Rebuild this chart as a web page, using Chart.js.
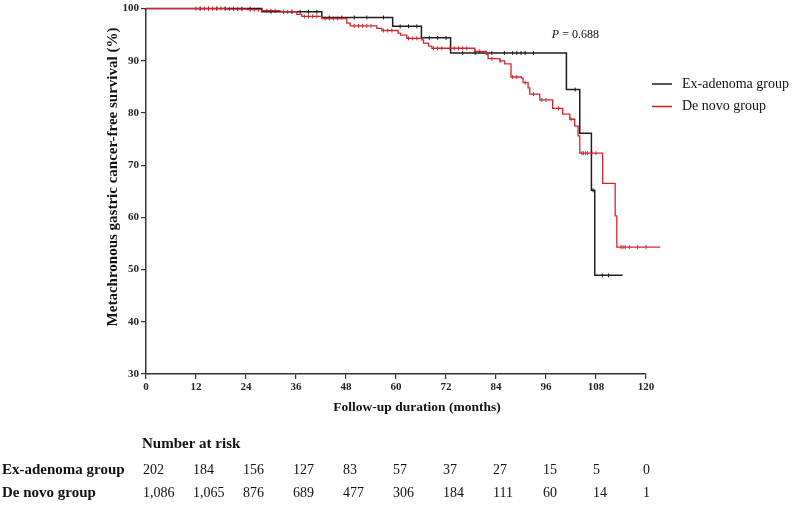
<!DOCTYPE html>
<html><head><meta charset="utf-8">
<script src="https://cdn.jsdelivr.net/npm/chart.js@4/dist/chart.umd.min.js"></script>
<style>html,body{margin:0;padding:0;background:#fff;}#wrap{position:relative;width:800px;height:505px;}</style>
</head><body><div id="wrap"><canvas id="c" width="800" height="505"></canvas></div>
<script>
// ---- data ----
const seriesNames = ['Ex-adenoma group', 'De novo group'];
// Kaplan-Meier steps: time (months) and survival (%) after each step; last entry = end of follow-up
const exTimes = [0, 27.8, 42.2, 59.2, 66.1, 73.1, 100.9, 104.1, 106.9, 107.7, 114.4];
const exSurv  = [100, 99.4, 98.3, 96.6, 94.4, 91.5, 84.5, 76.1, 65.2, 48.9, 48.9];
const dnTimes = [0, 19.4, 24.2, 27.8, 32.2, 36.2, 37.4, 42.2, 48.2, 49.0, 55.4, 56.6, 60.5, 61.1, 62.6, 66.2, 66.6, 67.8, 68.6, 78.9, 81.7, 82.1, 84.9, 86.1, 87.6, 90.1, 90.5, 91.7, 92.1, 94.5, 97.6, 100.0, 101.7, 102.9, 103.7, 104.1, 109.6, 112.6, 113.0, 123.4];
const dnSurv  = [100, 99.9, 99.8, 99.6, 99.4, 98.9, 98.5, 98.1, 97.2, 96.7, 96.2, 95.8, 95.3, 94.9, 94.3, 94.0, 93.4, 92.8, 92.4, 91.8, 91.2, 90.4, 90.0, 89.4, 86.9, 86.7, 85.8, 84.8, 83.6, 82.5, 80.9, 79.8, 78.8, 77.5, 75.6, 72.3, 66.5, 60.3, 54.3, 54.3];
// censoring times (months)
const exCensor = [13, 15, 17, 19, 21, 23, 25, 30, 33, 35, 37, 39, 41, 44, 47, 50, 53, 57, 61, 63, 65, 68, 70, 72, 76, 79, 83, 86, 88, 89, 90, 91, 93, 103, 107.3, 109.5, 111];
const dnCensor = [12, 13, 14, 15, 16, 17, 18, 19, 20, 21, 22, 23, 25, 26, 27, 29, 30, 31, 33, 34, 35, 38, 39, 40, 41, 43, 44, 45, 46, 50, 51, 52, 53, 54, 57, 58, 59, 63, 64, 65, 69, 70, 71, 73, 74, 75, 76, 77, 79, 80, 83, 85, 88, 89, 91, 93, 95, 96, 99, 102, 104.6, 105, 105.5, 106, 107, 108, 114, 114.5, 115, 116, 118, 120];
// axis ticks
const xTicks = [0, 12, 24, 36, 48, 60, 72, 84, 96, 108, 120];
const yTicks = [30, 40, 50, 60, 70, 80, 90, 100];
// number at risk
const riskTimes = xTicks;
const riskEx = [202, 184, 156, 127, 83, 57, 37, 27, 15, 5, 0];
const riskDn = [1086, 1065, 876, 689, 477, 306, 184, 111, 60, 14, 1];
const pText = '0.688';

// ---- helpers ----
function stepAt(times, surv, t) {
  let v = surv[0];
  for (let i = 0; i < times.length; i++) { if (times[i] <= t) v = surv[i]; }
  return v;
}
const pts = (ts, ss) => ts.map((t, i) => ({x: t, y: ss[i]}));
const cens = (cs, ts, ss) => cs.map(t => ({x: t, y: stepAt(ts, ss, t)}));

const BLACK = '#1e1e1e', RED = '#d3262b';
const SERIF = '"Liberation Serif", "Times New Roman", serif';

const overlay = {
  id: 'overlay',
  afterDraw(chart) {
    const ctx = chart.ctx, xs = chart.scales.x, ys = chart.scales.y, ca = chart.chartArea;
    ctx.save();
    ctx.fillStyle = '#111';
    // axis titles
    ctx.font = 'bold 13.5px ' + SERIF;
    ctx.textAlign = 'center'; ctx.textBaseline = 'middle';
    ctx.fillText('Follow-up duration (months)', 417, 408);
    ctx.save();
    ctx.translate(113, 177);
    ctx.rotate(-Math.PI / 2);
    ctx.font = 'bold 15px ' + SERIF;
    ctx.fillText('Metachronous gastric cancer-free survival (%)', 0, 0);
    ctx.restore();
    // P value
    ctx.textAlign = 'left';
    const px = xs.getPixelForValue(97.4), py = ys.getPixelForValue(95);
    ctx.font = 'italic 12px ' + SERIF;
    ctx.fillText('P', px, py);
    const w = ctx.measureText('P').width;
    ctx.font = '12px ' + SERIF;
    ctx.fillText(' = ' + pText, px + w, py);
    // legend
    const legY = [84, 106.5], cols = [BLACK, '#e0191f'];
    seriesNames.forEach((n, i) => {
      ctx.strokeStyle = cols[i]; ctx.lineWidth = 1.5;
      ctx.beginPath(); ctx.moveTo(652, legY[i]); ctx.lineTo(672, legY[i]); ctx.stroke();
      ctx.fillStyle = '#111';
      ctx.font = '14px ' + SERIF;
      ctx.fillText(n, 682, legY[i]);
    });
    // number at risk table
    ctx.font = 'bold 15px ' + SERIF;
    ctx.fillText('Number at risk', xs.getPixelForValue(0) - 4, 444);
    const rows = [riskEx, riskDn], rowY = [470, 493];
    rows.forEach((r, ri) => {
      ctx.font = 'bold 15px ' + SERIF;
      ctx.fillText(seriesNames[ri], 2, rowY[ri]);
      ctx.font = '14px ' + SERIF;
      r.forEach((v, i) => {
        ctx.fillText(v.toLocaleString('en-US'), xs.getPixelForValue(riskTimes[i]) - 3, rowY[ri]);
      });
    });
    ctx.restore();
  }
};

new Chart(document.getElementById('c'), {
  type: 'line',
  data: {
    datasets: [
      {label: seriesNames[1], data: pts(dnTimes, dnSurv), borderColor: RED, borderWidth: 1.3, stepped: 'before', pointRadius: 0, fill: false, clip: false},
      {label: seriesNames[0], data: pts(exTimes, exSurv), borderColor: BLACK, borderWidth: 1.5, stepped: 'before', pointRadius: 0, fill: false, clip: false},
      {type: 'scatter', data: cens(dnCensor, dnTimes, dnSurv), showLine: false, pointStyle: 'line', rotation: 90, pointRadius: 2, borderColor: RED, borderWidth: 1, backgroundColor: RED, clip: false},
      {type: 'scatter', data: cens(exCensor, exTimes, exSurv), showLine: false, pointStyle: 'line', rotation: 90, pointRadius: 2, borderColor: BLACK, borderWidth: 1, backgroundColor: BLACK, clip: false}
    ]
  },
  options: {
    responsive: false, animation: false, devicePixelRatio: 1,
    layout: {padding: {left: 0, right: 154, top: 7, bottom: 0}},
    plugins: {legend: {display: false}, tooltip: {enabled: false}},
    scales: {
      x: {
        type: 'linear', min: 0, max: 120,
        afterBuildTicks: s => { s.ticks = xTicks.map(v => ({value: v})); },
        afterFit: s => { s.height = 131; },
        grid: {drawOnChartArea: false, drawTicks: true, tickLength: 5, tickColor: '#333', lineWidth: 1.2},
        border: {display: true, color: '#333', width: 1.5},
        ticks: {font: {family: SERIF, size: 11, weight: 'bold'}, color: '#222', padding: 2, maxRotation: 0, autoSkip: false}
      },
      y: {
        type: 'linear', min: 30, max: 100,
        afterBuildTicks: s => { s.ticks = yTicks.map(v => ({value: v})); },
        afterFit: s => { s.width = 146; },
        grid: {drawOnChartArea: false, drawTicks: true, tickLength: 5, tickColor: '#333', lineWidth: 1.2},
        border: {display: true, color: '#333', width: 1.5},
        ticks: {font: {family: SERIF, size: 11, weight: 'bold'}, color: '#222', padding: 2}
      }
    }
  },
  plugins: [overlay]
});
</script></body></html>
